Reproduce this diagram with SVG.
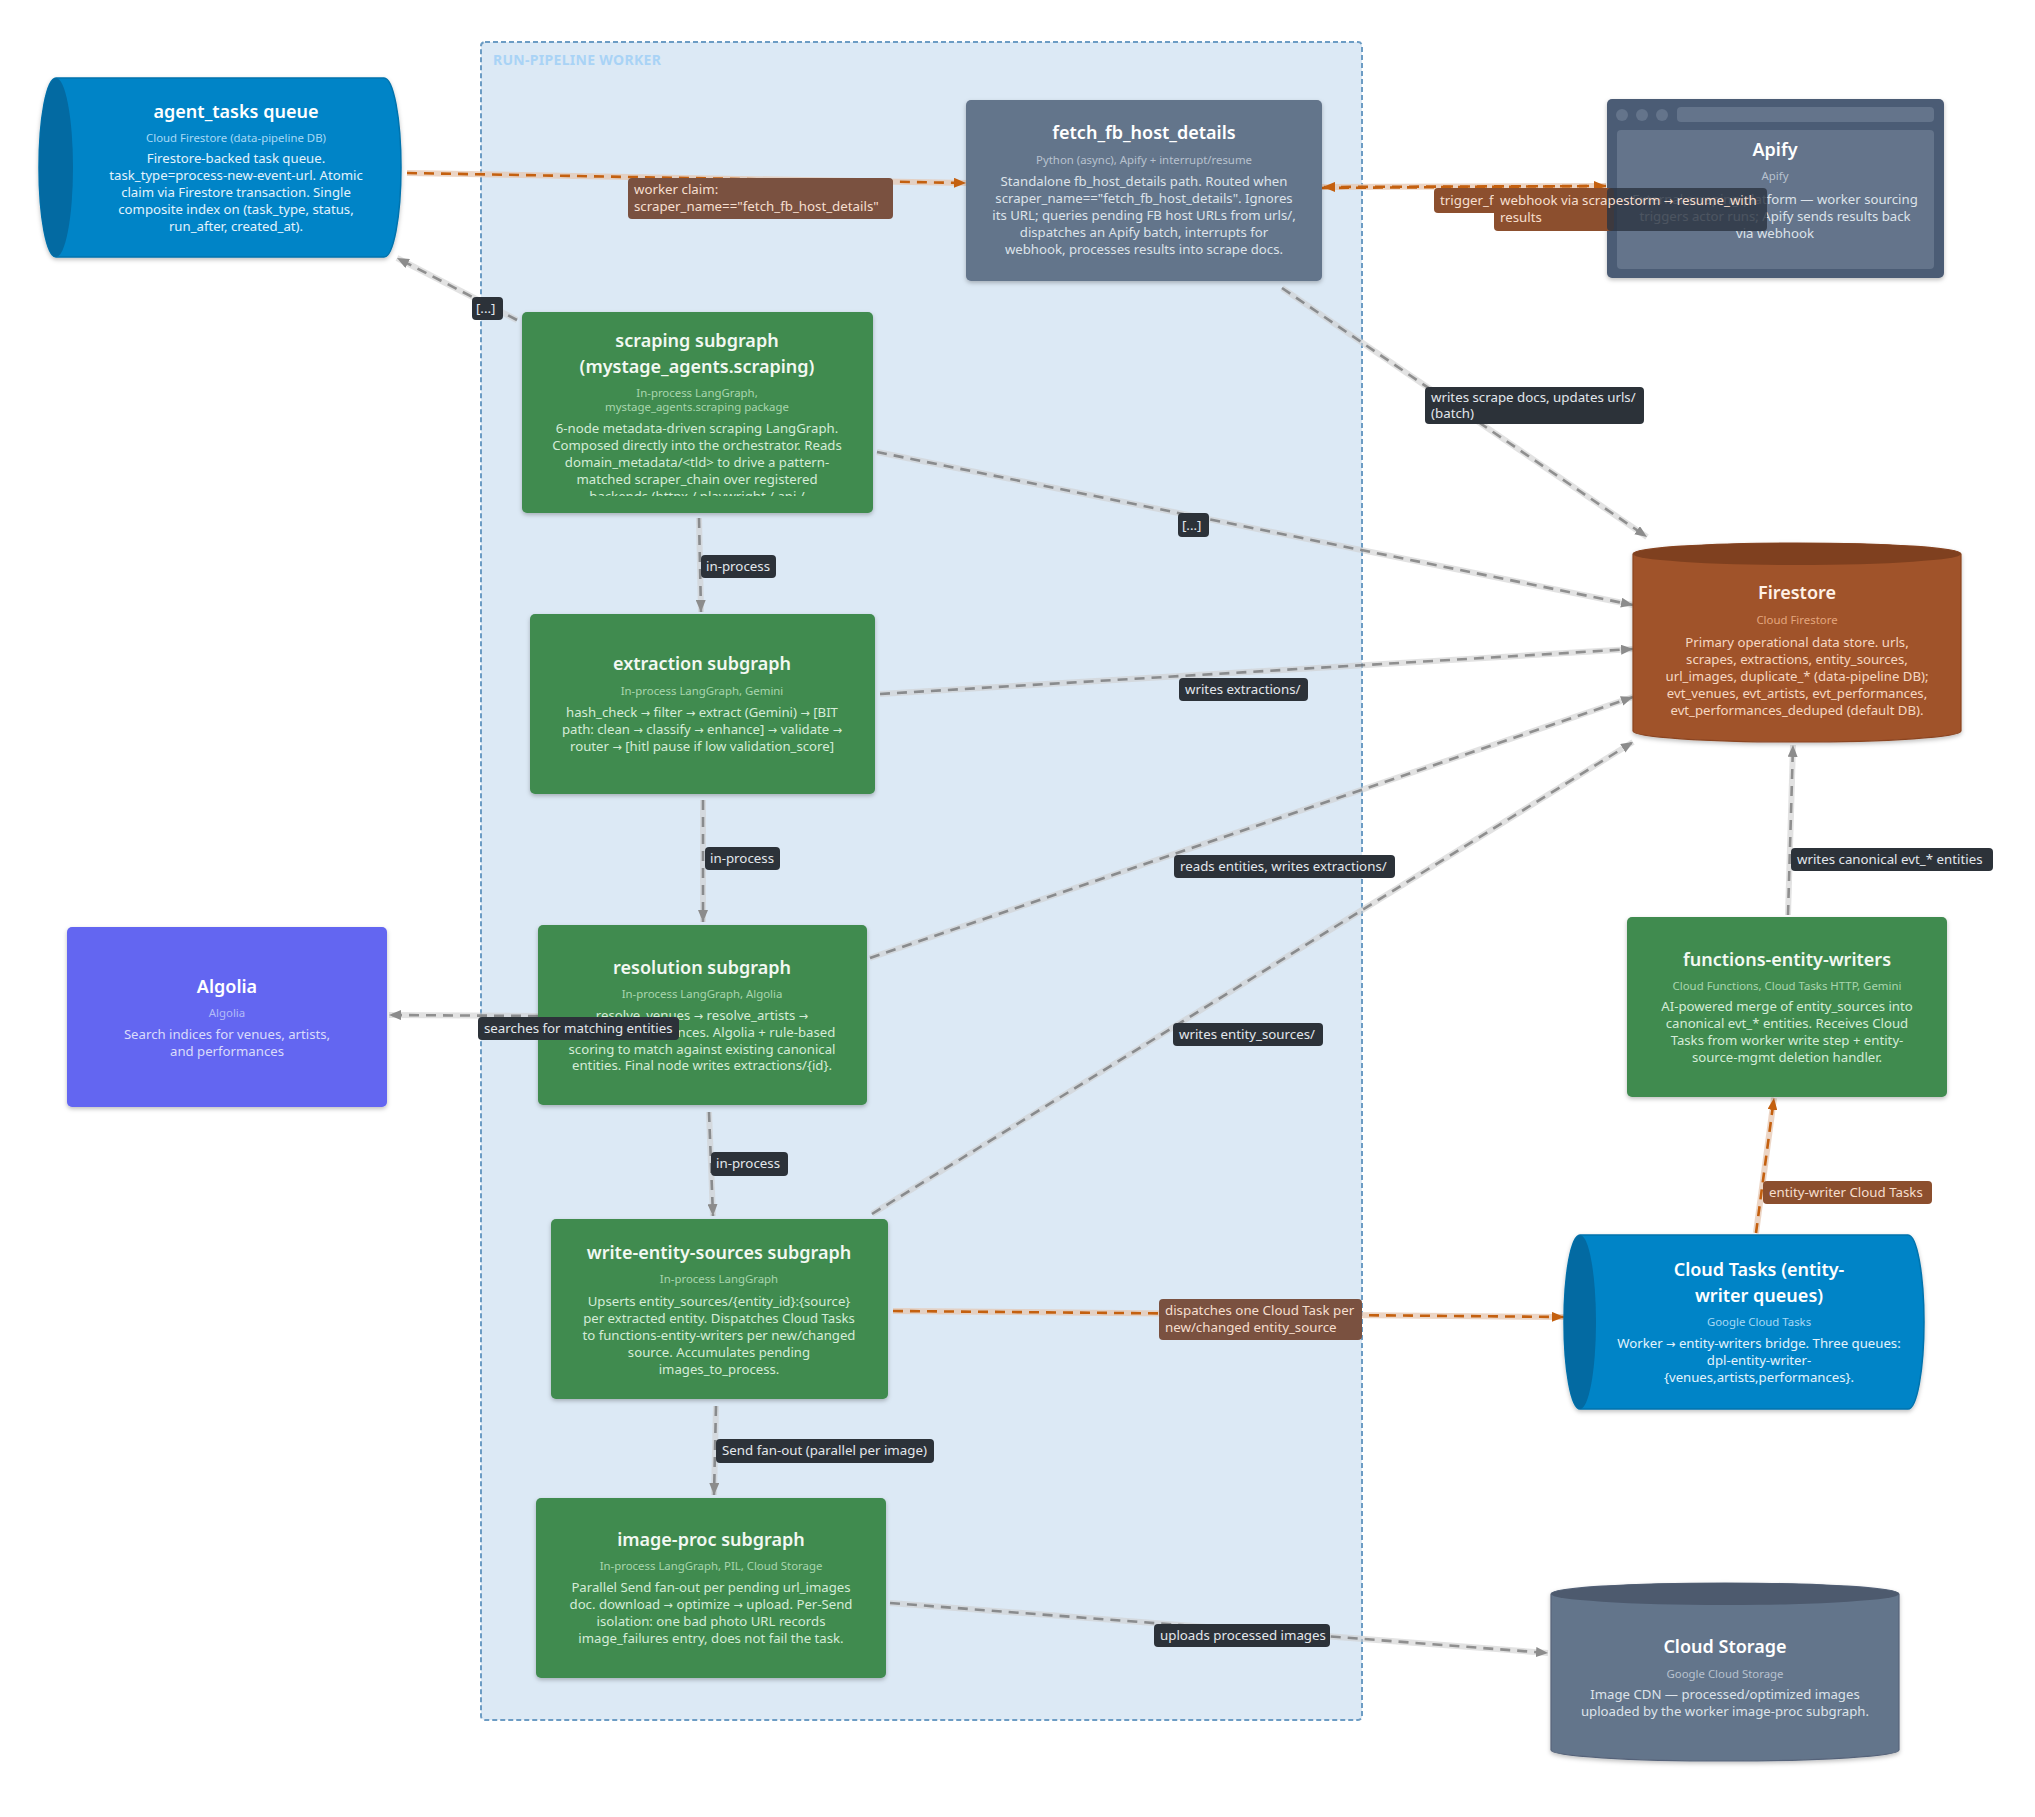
<svg xmlns="http://www.w3.org/2000/svg" width="2035" height="1817" viewBox="0 0 2035 1817">
<defs>
<style>
.t{font-family:'Noto Sans','Liberation Sans',sans-serif;text-anchor:middle}
.ti{font-size:18px;font-weight:600}
.st{font-size:11.4px}
.bd{font-size:13.2px}
.ar{font-family:'DejaVu Sans',sans-serif;font-size:0.85em}
.lt{font-family:'Noto Sans','Liberation Sans',sans-serif;font-size:13.3px;fill:#e3e7ec}
.ltb{font-family:'Noto Sans','Liberation Sans',sans-serif;font-size:13.3px;fill:#f6dfcf}
.ld{fill:#2c3239}
.lbi{fill:#7a5140}
.lbo{fill:#8c4f2e}
.g .ti{fill:#f2f8f2}.g .st{fill:#a9d6ae}.g .bd{fill:#d5ecd8}
.s .ti{fill:#ffffff}.s .st{fill:#b8c2cf}.s .bd{fill:#dde3ea}
.b .ti{fill:#ffffff}.b .st{fill:#a7d9f5}.b .bd{fill:#e3f3fd}
.o .ti{fill:#fff1e6}.o .st{fill:#e4a67d}.o .bd{fill:#f6d8c3}
.a .ti{fill:#ffffff}.a .st{fill:#b3bbf8}.a .bd{fill:#dadcfb}
.halo{fill:none;stroke:#cfcfcf;stroke-opacity:0.6;stroke-width:6}
.haloO{fill:none;stroke:#e6c7b1;stroke-opacity:0.75;stroke-width:6}
.eg{fill:none;stroke:#4a4a4a;stroke-opacity:0.55;stroke-width:2.6;stroke-dasharray:10 7}
.eo{fill:none;stroke:#c4600f;stroke-width:2.6;stroke-dasharray:10 7}
</style>
<filter id="sh" x="-5%" y="-5%" width="110%" height="115%"><feDropShadow dx="0" dy="2" stdDeviation="2" flood-color="#000" flood-opacity="0.25"/></filter>
<marker id="ag" viewBox="0 0 12 10" refX="12" refY="5" markerWidth="12" markerHeight="10" markerUnits="userSpaceOnUse" orient="auto"><path d="M0,0 L12,5 L0,10 z" fill="#8c8c8c"/></marker>
<marker id="ao" viewBox="0 0 12 10" refX="12" refY="5" markerWidth="12" markerHeight="10" markerUnits="userSpaceOnUse" orient="auto"><path d="M0,0 L12,5 L0,10 z" fill="#c4600f"/></marker>
<clipPath id="clipScr"><rect x="522" y="312" width="351" height="184"/></clipPath>
</defs>
<rect width="2035" height="1817" fill="#ffffff"/>

<g id="container">
<rect x="481" y="42" width="881" height="1678" rx="4" fill="#dce9f5" stroke="#6c9cc4" stroke-width="2" stroke-dasharray="5 3"/>
<text x="493" y="65" style="font-family:'Noto Sans','Liberation Sans',sans-serif;font-size:14px;font-weight:700;fill:#a9d3f6;letter-spacing:0.3px">RUN-PIPELINE WORKER</text>
</g>

<g id="connectors">
<path class="haloO" d="M407,173 L966,183"/><path class="eo" d="M407,173 L966,183" marker-end="url(#ao)"/>
<path class="halo" d="M517,320 L397,258"/><path class="eg" d="M517,320 L397,258" marker-end="url(#ag)"/>
<path class="haloO" d="M1322,187 L1606,186"/><path class="eo" d="M1322,188 L1606,186" marker-end="url(#ao)"/><path class="eo" d="M1606,186 L1323,187" marker-end="url(#ao)"/>
<path class="halo" d="M1282,288 L1647,537"/><path class="eg" d="M1282,288 L1647,537" marker-end="url(#ag)"/>
<path class="halo" d="M699,518 L701,612"/><path class="eg" d="M699,518 L701,612" marker-end="url(#ag)"/>
<path class="halo" d="M877,452 L1633,605"/><path class="eg" d="M877,452 L1633,605" marker-end="url(#ag)"/>
<path class="halo" d="M880,694 L1633,649"/><path class="eg" d="M880,694 L1633,649" marker-end="url(#ag)"/>
<path class="halo" d="M703,800 L703,922"/><path class="eg" d="M703,800 L703,922" marker-end="url(#ag)"/>
<path class="halo" d="M870,958 L1633,697"/><path class="eg" d="M870,958 L1633,697" marker-end="url(#ag)"/>
<path class="halo" d="M538,1016 L389,1015"/><path class="eg" d="M538,1016 L389,1015" marker-end="url(#ag)"/>
<path class="halo" d="M709,1112 L713,1216"/><path class="eg" d="M709,1112 L713,1216" marker-end="url(#ag)"/>
<path class="halo" d="M872,1214 L1633,742"/><path class="eg" d="M872,1214 L1633,742" marker-end="url(#ag)"/>
<path class="haloO" d="M893,1311 L1564,1317"/><path class="eo" d="M893,1311 L1564,1317" marker-end="url(#ao)"/>
<path class="halo" d="M716,1406 L714,1495"/><path class="eg" d="M716,1406 L714,1495" marker-end="url(#ag)"/>
<path class="halo" d="M890,1603 L1548,1653"/><path class="eg" d="M890,1603 L1548,1653" marker-end="url(#ag)"/>
<path class="halo" d="M1788,915 L1793,745"/><path class="eg" d="M1788,915 L1793,745" marker-end="url(#ag)"/>
<path class="haloO" d="M1756,1233 L1774,1098"/><path class="eo" d="M1756,1233 L1774,1098" marker-end="url(#ao)"/>
</g>

<g id="agent_tasks" class="b">
<path d="M56,78 L384,78 A17,89.5 0 0 1 384,257 L56,257 A17,89.5 0 0 1 56,78 Z" fill="#0284c7" stroke="#0373ad" stroke-width="1.5" filter="url(#sh)"/>
<ellipse cx="56" cy="167.5" rx="17" ry="89.5" fill="#036aa2"/>
<text class="t ti" x="236" y="118">agent_tasks queue</text>
<text class="t st" x="236" y="142">Cloud Firestore (data-pipeline DB)</text>
<text class="t bd" x="236" y="163">Firestore-backed task queue.</text>
<text class="t bd" x="236" y="180">task_type=process-new-event-url. Atomic</text>
<text class="t bd" x="236" y="197">claim via Firestore transaction. Single</text>
<text class="t bd" x="236" y="214">composite index on (task_type, status,</text>
<text class="t bd" x="236" y="231">run_after, created_at).</text>
</g>

<g id="fetch_fb_host_details" class="s">
<rect x="966" y="100" width="356" height="181" rx="5" fill="#64748b" filter="url(#sh)"/>
<text class="t ti" x="1144" y="139">fetch_fb_host_details</text>
<text class="t st" x="1144" y="164">Python (async), Apify + interrupt/resume</text>
<text class="t bd" x="1144" y="186">Standalone fb_host_details path. Routed when</text>
<text class="t bd" x="1144" y="203">scraper_name=="fetch_fb_host_details". Ignores</text>
<text class="t bd" x="1144" y="220">its URL; queries pending FB host URLs from urls/,</text>
<text class="t bd" x="1144" y="237">dispatches an Apify batch, interrupts for</text>
<text class="t bd" x="1144" y="254">webhook, processes results into scrape docs.</text>
</g>

<g id="apify" class="s">
<rect x="1607" y="99" width="337" height="179" rx="5" fill="#4c5c75" filter="url(#sh)"/>
<circle cx="1622" cy="115" r="6" fill="#64748b"/>
<circle cx="1642" cy="115" r="6" fill="#64748b"/>
<circle cx="1662" cy="115" r="6" fill="#64748b"/>
<rect x="1677" y="107" width="257" height="15" rx="4" fill="#64748b"/>
<rect x="1617" y="130" width="317" height="139" rx="4" fill="#64748b"/>
<text class="t ti" x="1775" y="156">Apify</text>
<text class="t st" x="1775" y="180">Apify</text>
<text class="t bd" x="1775" y="204">External scraping platform — worker sourcing</text>
<text class="t bd" x="1775" y="221">triggers actor runs; Apify sends results back</text>
<text class="t bd" x="1775" y="238">via webhook</text>
</g>

<g id="scraping" class="g">
<rect x="522" y="312" width="351" height="201" rx="5" fill="#408b4f" filter="url(#sh)"/>
<text class="t ti" x="697" y="347">scraping subgraph</text>
<text class="t ti" x="697" y="373">(mystage_agents.scraping)</text>
<text class="t st" x="697" y="397">In-process LangGraph,</text>
<text class="t st" x="697" y="411">mystage_agents.scraping package</text>
<g clip-path="url(#clipScr)">
<text class="t bd" x="697" y="433">6-node metadata-driven scraping LangGraph.</text>
<text class="t bd" x="697" y="450">Composed directly into the orchestrator. Reads</text>
<text class="t bd" x="697" y="467">domain_metadata/&lt;tld&gt; to drive a pattern-</text>
<text class="t bd" x="697" y="484">matched scraper_chain over registered</text>
<text class="t bd" x="697" y="501">backends (httpx / playwright / api /</text>
</g>
</g>

<g id="extraction" class="g">
<rect x="530" y="614" width="345" height="180" rx="5" fill="#408b4f" filter="url(#sh)"/>
<text class="t ti" x="702" y="670">extraction subgraph</text>
<text class="t st" x="702" y="695">In-process LangGraph, Gemini</text>
<text class="t bd" x="702" y="717">hash_check <tspan class="ar">→</tspan> filter <tspan class="ar">→</tspan> extract (Gemini) <tspan class="ar">→</tspan> [BIT</text>
<text class="t bd" x="702" y="734">path: clean <tspan class="ar">→</tspan> classify <tspan class="ar">→</tspan> enhance] <tspan class="ar">→</tspan> validate <tspan class="ar">→</tspan></text>
<text class="t bd" x="702" y="751">router <tspan class="ar">→</tspan> [hitl pause if low validation_score]</text>
</g>

<g id="resolution" class="g">
<rect x="538" y="925" width="329" height="180" rx="5" fill="#408b4f" filter="url(#sh)"/>
<text class="t ti" x="702" y="974">resolution subgraph</text>
<text class="t st" x="702" y="998">In-process LangGraph, Algolia</text>
<text class="t bd" x="702" y="1020">resolve_venues <tspan class="ar">→</tspan> resolve_artists <tspan class="ar">→</tspan></text>
<text class="t bd" x="702" y="1037">resolve_performances. Algolia + rule-based</text>
<text class="t bd" x="702" y="1054">scoring to match against existing canonical</text>
<text class="t bd" x="702" y="1070">entities. Final node writes extractions/{id}.</text>
</g>

<g id="write_entity_sources" class="g">
<rect x="551" y="1219" width="337" height="180" rx="5" fill="#408b4f" filter="url(#sh)"/>
<text class="t ti" x="719" y="1259">write-entity-sources subgraph</text>
<text class="t st" x="719" y="1283">In-process LangGraph</text>
<text class="t bd" x="719" y="1306">Upserts entity_sources/{entity_id}:{source}</text>
<text class="t bd" x="719" y="1323">per extracted entity. Dispatches Cloud Tasks</text>
<text class="t bd" x="719" y="1340">to functions-entity-writers per new/changed</text>
<text class="t bd" x="719" y="1357">source. Accumulates pending</text>
<text class="t bd" x="719" y="1374">images_to_process.</text>
</g>

<g id="image_proc" class="g">
<rect x="536" y="1498" width="350" height="180" rx="5" fill="#408b4f" filter="url(#sh)"/>
<text class="t ti" x="711" y="1546">image-proc subgraph</text>
<text class="t st" x="711" y="1570">In-process LangGraph, PIL, Cloud Storage</text>
<text class="t bd" x="711" y="1592">Parallel Send fan-out per pending url_images</text>
<text class="t bd" x="711" y="1609">doc. download <tspan class="ar">→</tspan> optimize <tspan class="ar">→</tspan> upload. Per-Send</text>
<text class="t bd" x="711" y="1626">isolation: one bad photo URL records</text>
<text class="t bd" x="711" y="1643">image_failures entry, does not fail the task.</text>
</g>

<g id="algolia" class="a">
<rect x="67" y="927" width="320" height="180" rx="5" fill="#6366f1" filter="url(#sh)"/>
<text class="t ti" x="227" y="993">Algolia</text>
<text class="t st" x="227" y="1017">Algolia</text>
<text class="t bd" x="227" y="1039">Search indices for venues, artists,</text>
<text class="t bd" x="227" y="1056">and performances</text>
</g>

<g id="firestore" class="o">
<path d="M1633,554 A164,11 0 0 1 1961,554 L1961,731 A164,11 0 0 1 1633,731 Z" fill="#a0532b" stroke="#8a4420" stroke-width="1.2" filter="url(#sh)"/>
<ellipse cx="1797" cy="554" rx="164" ry="11" fill="#7f401f"/>
<text class="t ti" x="1797" y="599">Firestore</text>
<text class="t st" x="1797" y="624">Cloud Firestore</text>
<text class="t bd" x="1797" y="647">Primary operational data store. urls,</text>
<text class="t bd" x="1797" y="664">scrapes, extractions, entity_sources,</text>
<text class="t bd" x="1797" y="681">url_images, duplicate_* (data-pipeline DB);</text>
<text class="t bd" x="1797" y="698">evt_venues, evt_artists, evt_performances,</text>
<text class="t bd" x="1797" y="715">evt_performances_deduped (default DB).</text>
</g>

<g id="functions_entity_writers" class="g">
<rect x="1627" y="917" width="320" height="180" rx="5" fill="#408b4f" filter="url(#sh)"/>
<text class="t ti" x="1787" y="966">functions-entity-writers</text>
<text class="t st" x="1787" y="990">Cloud Functions, Cloud Tasks HTTP, Gemini</text>
<text class="t bd" x="1787" y="1011">AI-powered merge of entity_sources into</text>
<text class="t bd" x="1787" y="1028">canonical evt_* entities. Receives Cloud</text>
<text class="t bd" x="1787" y="1045">Tasks from worker write step + entity-</text>
<text class="t bd" x="1787" y="1062">source-mgmt deletion handler.</text>
</g>

<g id="cloud_tasks" class="b">
<path d="M1580,1235 L1908,1235 A16,87 0 0 1 1908,1409 L1580,1409 A16,87 0 0 1 1580,1235 Z" fill="#0284c7" stroke="#0373ad" stroke-width="1.5" filter="url(#sh)"/>
<ellipse cx="1580" cy="1322" rx="16" ry="87" fill="#036aa2"/>
<text class="t ti" x="1759" y="1276">Cloud Tasks (entity-</text>
<text class="t ti" x="1759" y="1302">writer queues)</text>
<text class="t st" x="1759" y="1326">Google Cloud Tasks</text>
<text class="t bd" x="1759" y="1348">Worker <tspan class="ar">→</tspan> entity-writers bridge. Three queues:</text>
<text class="t bd" x="1759" y="1365">dpl-entity-writer-</text>
<text class="t bd" x="1759" y="1382">{venues,artists,performances}.</text>
</g>

<g id="cloud_storage" class="s">
<path d="M1551,1594 A174,11 0 0 1 1899,1594 L1899,1750 A174,11 0 0 1 1551,1750 Z" fill="#64748b" stroke="#56647a" stroke-width="1.2" filter="url(#sh)"/>
<ellipse cx="1725" cy="1594" rx="174" ry="11" fill="#4d5a6e"/>
<text class="t ti" x="1725" y="1653">Cloud Storage</text>
<text class="t st" x="1725" y="1678">Google Cloud Storage</text>
<text class="t bd" x="1725" y="1699">Image CDN — processed/optimized images</text>
<text class="t bd" x="1725" y="1716">uploaded by the worker image-proc subgraph.</text>
</g>

<g id="edge_labels">
<rect class="lbi" x="628" y="178" width="265" height="41" rx="4"/>
<text class="ltb" x="634" y="194">worker claim:</text>
<text class="ltb" x="634" y="211">scraper_name=="fetch_fb_host_details"</text>

<rect class="ld" x="472" y="297" width="31" height="23" rx="4"/>
<text class="lt" x="476" y="313">[...]</text>

<rect class="lbo" x="1434" y="188" width="170" height="25" rx="4"/>
<text class="ltb" x="1440" y="205">trigger_fb_host_details</text>
<rect x="1494" y="188" width="120" height="43" rx="4" fill="#8c4f2e"/>
<rect x="1607" y="188" width="160" height="43" rx="4" fill="#2c3442" fill-opacity="0.82"/>
<text class="ltb" x="1500" y="205">webhook via scrapestorm <tspan class="ar">→</tspan> resume_with</text>
<text class="ltb" x="1500" y="222">results</text>

<rect class="ld" x="1425" y="387" width="219" height="37" rx="4"/>
<text class="lt" x="1431" y="402">writes scrape docs, updates urls/</text>
<text class="lt" x="1431" y="418">(batch)</text>

<rect class="ld" x="701" y="555" width="75" height="23" rx="4"/>
<text class="lt" x="706" y="571">in-process</text>

<rect class="ld" x="1178" y="513" width="31" height="24" rx="4"/>
<text class="lt" x="1182" y="530">[...]</text>

<rect class="ld" x="1179" y="678" width="129" height="23" rx="4"/>
<text class="lt" x="1185" y="694">writes extractions/</text>

<rect class="ld" x="705" y="847" width="75" height="23" rx="4"/>
<text class="lt" x="710" y="863">in-process</text>

<rect class="ld" x="1174" y="855" width="221" height="23" rx="4"/>
<text class="lt" x="1180" y="871">reads entities, writes extractions/</text>

<rect class="ld" x="478" y="1017" width="201" height="23" rx="4"/>
<text class="lt" x="484" y="1033">searches for matching entities</text>

<rect class="ld" x="1173" y="1023" width="150" height="23" rx="4"/>
<text class="lt" x="1179" y="1039">writes entity_sources/</text>

<rect class="ld" x="711" y="1152" width="77" height="24" rx="4"/>
<text class="lt" x="716" y="1168">in-process</text>

<rect class="lbi" x="1159" y="1299" width="203" height="41" rx="4"/>
<text class="ltb" x="1165" y="1315">dispatches one Cloud Task per</text>
<text class="ltb" x="1165" y="1332">new/changed entity_source</text>

<rect class="ld" x="716" y="1439" width="218" height="24" rx="4"/>
<text class="lt" x="722" y="1455">Send fan-out (parallel per image)</text>

<rect class="ld" x="1154" y="1624" width="176" height="23" rx="4"/>
<text class="lt" x="1160" y="1640">uploads processed images</text>

<rect class="ld" x="1791" y="848" width="202" height="23" rx="4"/>
<text class="lt" x="1797" y="864">writes canonical evt_* entities</text>

<rect class="lbo" x="1763" y="1181" width="169" height="23" rx="4"/>
<text class="ltb" x="1769" y="1197">entity-writer Cloud Tasks</text>
</g>
</svg>
